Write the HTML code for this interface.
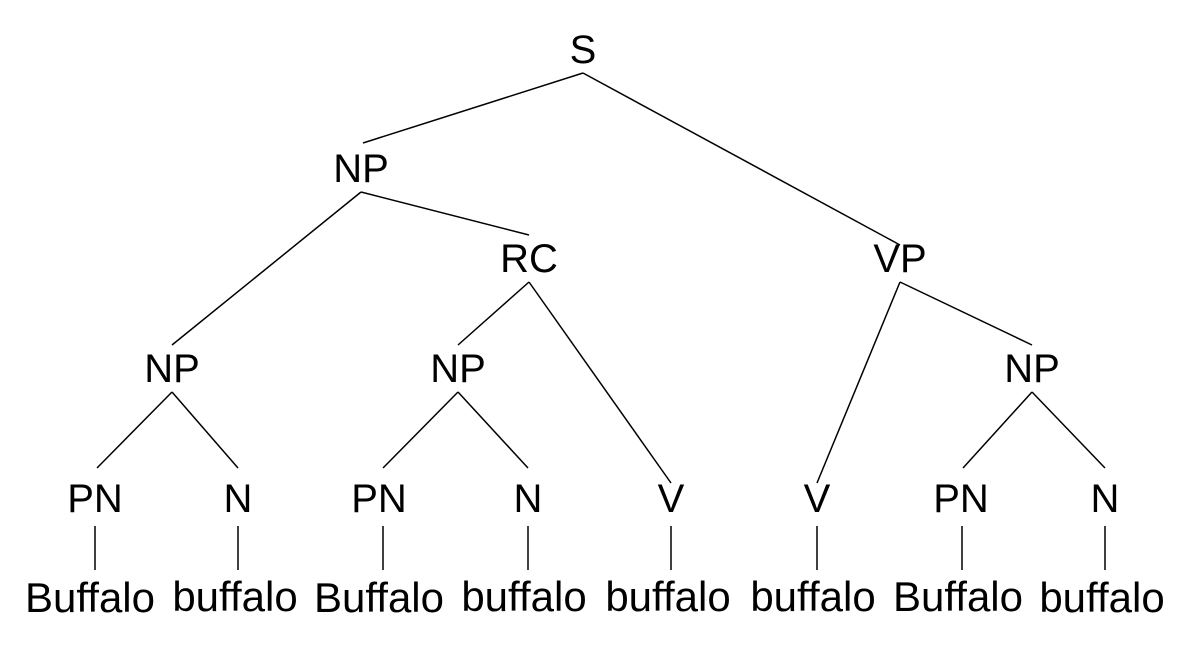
<!DOCTYPE html>
<html><head><style>html,body{margin:0;padding:0;background:#fff}</style></head>
<body>
<svg width="1200" height="660" xmlns="http://www.w3.org/2000/svg">
<g stroke="#000" stroke-width="1.5" fill="none">
<line x1="583" y1="73" x2="363" y2="143"/>
<line x1="583" y1="73" x2="900" y2="245"/>
<line x1="361" y1="192" x2="172" y2="345"/>
<line x1="361" y1="192" x2="529" y2="235"/>
<line x1="529" y1="282" x2="458" y2="345"/>
<line x1="529" y1="282" x2="671" y2="483"/>
<line x1="900" y1="282" x2="817" y2="483"/>
<line x1="900" y1="282" x2="1032" y2="345"/>
<line x1="172" y1="392" x2="97" y2="468"/>
<line x1="172" y1="392" x2="238" y2="468"/>
<line x1="458" y1="392" x2="383" y2="468"/>
<line x1="458" y1="392" x2="528" y2="468"/>
<line x1="1032" y1="392" x2="963" y2="468"/>
<line x1="1032" y1="392" x2="1105" y2="468"/>
<line x1="95" y1="526" x2="95" y2="570"/>
<line x1="238" y1="526" x2="238" y2="570"/>
<line x1="383" y1="526" x2="383" y2="570"/>
<line x1="528" y1="526" x2="528" y2="570"/>
<line x1="671" y1="526" x2="671" y2="570"/>
<line x1="817" y1="526" x2="817" y2="570"/>
<line x1="962" y1="526" x2="962" y2="570"/>
<line x1="1105" y1="526" x2="1105" y2="570"/>
</g>
<g font-family="Liberation Sans, sans-serif" font-size="40" text-anchor="middle" fill="#000">
<text x="583" y="63">S</text>
<text x="361" y="182">NP</text>
<text x="529" y="272">RC</text>
<text x="900" y="272">VP</text>
<text x="172" y="382">NP</text>
<text x="458" y="382">NP</text>
<text x="1032" y="382">NP</text>
<text x="95" y="512">PN</text>
<text x="238" y="512">N</text>
<text x="379" y="512">PN</text>
<text x="528" y="512">N</text>
<text x="671" y="512">V</text>
<text x="817" y="512">V</text>
<text x="961" y="512">PN</text>
<text x="1105" y="512">N</text>
</g>
<g font-family="Liberation Sans, sans-serif" font-size="42" text-anchor="middle" fill="#000">
<text x="90" y="612">Buffalo</text>
<text x="235" y="611">buffalo</text>
<text x="379" y="612">Buffalo</text>
<text x="524" y="611">buffalo</text>
<text x="668" y="611">buffalo</text>
<text x="813" y="611">buffalo</text>
<text x="958" y="611">Buffalo</text>
<text x="1102" y="612">buffalo</text>
</g>
</svg>
</body></html>
